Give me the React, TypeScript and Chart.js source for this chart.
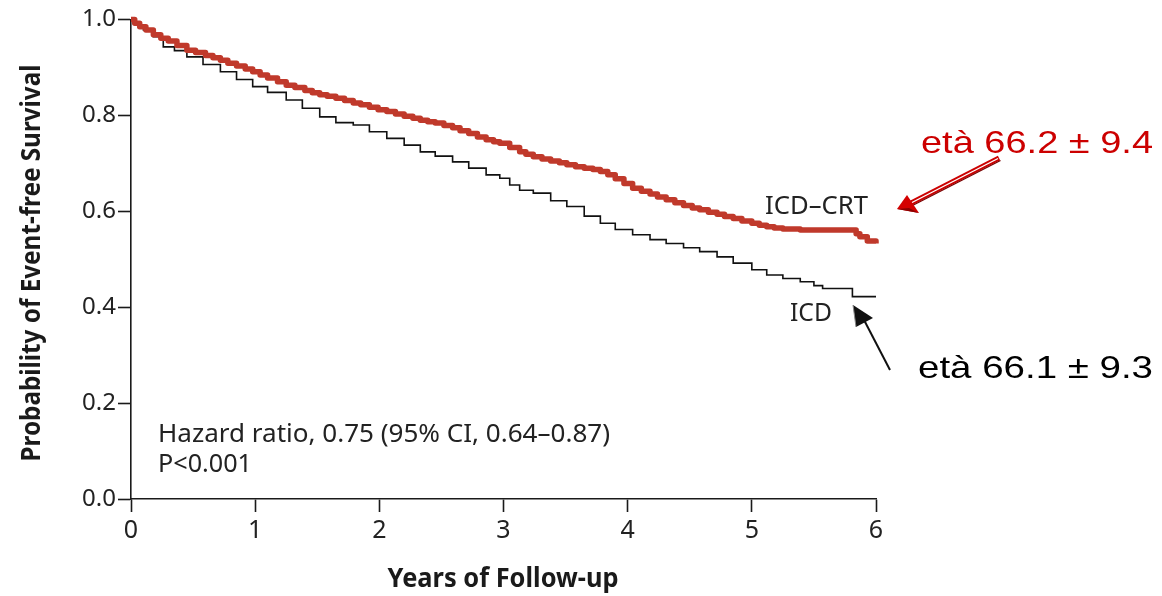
import React, { useEffect, useRef } from 'react';
import { Chart, registerables } from 'chart.js';

Chart.register(...registerables);

// ICD–CRT (red) Kaplan–Meier estimate
const crtYears = [0, 0.03, 0.07, 0.12, 0.18, 0.24, 0.3, 0.37, 0.45, 0.52, 0.6, 0.66, 0.72, 0.78, 0.85, 0.92, 0.98, 1.04, 1.1, 1.18, 1.25, 1.32, 1.4, 1.46, 1.52, 1.58, 1.65, 1.72, 1.79, 1.85, 1.92, 1.99, 2.06, 2.13, 2.2, 2.27, 2.33, 2.39, 2.45, 2.52, 2.59, 2.65, 2.72, 2.79, 2.86, 2.92, 2.97, 3.05, 3.13, 3.18, 3.24, 3.31, 3.38, 3.45, 3.51, 3.58, 3.65, 3.72, 3.78, 3.84, 3.9, 3.97, 4.04, 4.11, 4.18, 4.24, 4.31, 4.38, 4.45, 4.52, 4.58, 4.65, 4.72, 4.78, 4.85, 4.92, 5.0, 5.06, 5.12, 5.18, 5.25, 5.39, 5.84, 5.87, 5.93, 6.0];
const crtSurvival = [1.0, 0.992, 0.985, 0.978, 0.968, 0.961, 0.955, 0.946, 0.936, 0.931, 0.925, 0.92, 0.915, 0.909, 0.903, 0.897, 0.891, 0.884, 0.878, 0.87, 0.863, 0.858, 0.852, 0.847, 0.843, 0.84, 0.836, 0.831, 0.826, 0.822, 0.817, 0.812, 0.808, 0.803, 0.798, 0.794, 0.79, 0.787, 0.784, 0.779, 0.774, 0.768, 0.762, 0.755, 0.749, 0.745, 0.742, 0.733, 0.724, 0.719, 0.714, 0.709, 0.705, 0.701, 0.697, 0.693, 0.69, 0.687, 0.683, 0.676, 0.668, 0.658, 0.648, 0.642, 0.636, 0.63, 0.624, 0.618, 0.612, 0.607, 0.603, 0.598, 0.594, 0.589, 0.585, 0.58, 0.575, 0.571, 0.568, 0.565, 0.563, 0.561, 0.553, 0.547, 0.538, 0.533];

// ICD (black) Kaplan–Meier estimate
const icdYears = [0, 0.04, 0.1, 0.18, 0.26, 0.35, 0.45, 0.58, 0.72, 0.85, 0.98, 1.1, 1.25, 1.38, 1.52, 1.65, 1.79, 1.92, 2.06, 2.2, 2.33, 2.45, 2.59, 2.72, 2.86, 2.97, 3.05, 3.13, 3.24, 3.38, 3.51, 3.65, 3.78, 3.9, 4.04, 4.18, 4.31, 4.45, 4.58, 4.72, 4.85, 5.0, 5.12, 5.25, 5.39, 5.5, 5.57, 5.81, 6.0];
const icdSurvival = [1.0, 0.988, 0.978, 0.964, 0.943, 0.935, 0.922, 0.906, 0.891, 0.875, 0.86, 0.848, 0.832, 0.815, 0.797, 0.785, 0.78, 0.766, 0.752, 0.738, 0.724, 0.715, 0.703, 0.69, 0.676, 0.669, 0.655, 0.644, 0.638, 0.622, 0.61, 0.59, 0.575, 0.562, 0.551, 0.541, 0.533, 0.524, 0.516, 0.505, 0.492, 0.478, 0.467, 0.46, 0.453, 0.445, 0.439, 0.422, 0.422];

const xTickValues = [0, 1, 2, 3, 4, 5, 6];
const yTickValues = [0, 0.2, 0.4, 0.6, 0.8, 1.0];

const seriesLabels = ['ICD–CRT', 'ICD'];
const xTitle = 'Years of Follow-up';
const yTitle = 'Probability of Event-free Survival';
const hazardText = 'Hazard ratio, 0.75 (95% CI, 0.64–0.87)';
const pText = 'P<0.001';
const crtAge = 'età 66.2 ± 9.4';
const icdAge = 'età 66.1 ± 9.3';

const SANS = '"Noto Sans", "Open Sans", sans-serif';
const ARIAL = '"Liberation Sans", Arial, sans-serif';

function fitText(
  ctx: CanvasRenderingContext2D,
  text: string,
  x: number,
  y: number,
  width: number,
  font: string,
  color: string,
  align: CanvasTextAlign = 'left',
  rotate = 0
) {
  ctx.save();
  ctx.font = font;
  ctx.fillStyle = color;
  ctx.textBaseline = 'alphabetic';
  ctx.textAlign = align;
  const m = ctx.measureText(text).width;
  const s = m > 0 ? width / m : 1;
  ctx.translate(x, y);
  if (rotate) ctx.rotate(rotate);
  ctx.scale(s, 1);
  ctx.fillText(text, 0, 0);
  ctx.restore();
}

const annotatePlugin = {
  id: 'annotate',
  afterDraw(chart: any) {
    const ctx: CanvasRenderingContext2D = chart.ctx;
    const textColor = '#222222';

    // Axis titles
    fitText(ctx, yTitle, 40, 263, 397, `bold 27px ${SANS}`, '#1a1a1a', 'center', -Math.PI / 2);
    fitText(ctx, xTitle, 503, 587, 231, `bold 27px ${SANS}`, '#1a1a1a', 'center');

    // Statistics
    fitText(ctx, hazardText, 158, 442, 452, `26px ${SANS}`, textColor);
    fitText(ctx, pText, 158, 472, 94, `26px ${SANS}`, textColor);

    // Series labels
    fitText(ctx, seriesLabels[0], 765, 214, 103, `26px ${SANS}`, textColor);
    fitText(ctx, seriesLabels[1], 790, 321, 42, `26px ${SANS}`, textColor);

    // Age annotations
    fitText(ctx, crtAge, 921, 153, 232, `32px ${ARIAL}`, '#cc0000');
    fitText(ctx, icdAge, 918, 378, 235, `32px ${ARIAL}`, '#000000');

    // Red double-line arrow
    ctx.save();
    ctx.lineCap = 'butt';
    ctx.strokeStyle = '#cc0000';
    ctx.lineWidth = 5;
    ctx.beginPath();
    ctx.moveTo(999, 158);
    ctx.lineTo(911, 203);
    ctx.stroke();
    ctx.strokeStyle = '#7a0000';
    ctx.lineWidth = 1.3;
    ctx.beginPath();
    ctx.moveTo(1000.5, 160.5);
    ctx.lineTo(912.5, 205.5);
    ctx.stroke();
    ctx.strokeStyle = '#ffffff';
    ctx.lineWidth = 1.4;
    ctx.beginPath();
    ctx.moveTo(998, 158.5);
    ctx.lineTo(911, 203);
    ctx.stroke();
    ctx.fillStyle = '#d40000';
    ctx.beginPath();
    ctx.moveTo(897, 209);
    ctx.lineTo(907, 195);
    ctx.lineTo(919, 213);
    ctx.closePath();
    ctx.fill();
    ctx.fillStyle = '#8a0000';
    ctx.beginPath();
    ctx.moveTo(897, 209);
    ctx.lineTo(919, 213);
    ctx.lineTo(909, 208);
    ctx.closePath();
    ctx.fill();
    ctx.restore();

    // Black arrow
    ctx.save();
    ctx.strokeStyle = '#111111';
    ctx.lineWidth = 2;
    ctx.beginPath();
    ctx.moveTo(890, 370);
    ctx.lineTo(863, 318);
    ctx.stroke();
    ctx.fillStyle = '#111111';
    ctx.beginPath();
    ctx.moveTo(853, 305);
    ctx.lineTo(873, 318);
    ctx.lineTo(856, 327);
    ctx.closePath();
    ctx.fill();
    ctx.strokeStyle = '#888888';
    ctx.lineWidth = 1;
    ctx.beginPath();
    ctx.moveTo(853, 305);
    ctx.lineTo(856, 327);
    ctx.stroke();
    ctx.restore();
  },
};

export default function App() {
  const canvasRef = useRef<HTMLCanvasElement | null>(null);

  useEffect(() => {
    const canvas = canvasRef.current;
    if (!canvas) return;
    const crtData = crtYears.map((x, i) => ({ x, y: crtSurvival[i] }));
    const icdData = icdYears.map((x, i) => ({ x, y: icdSurvival[i] }));

    const chart = new Chart(canvas, {
      type: 'line',
      data: {
        datasets: [
          {
            label: seriesLabels[0],
            data: crtData,
            borderColor: '#c0392b',
            borderWidth: 5.5,
            stepped: 'before',
            pointRadius: 0,
            fill: false,
            clip: false as any,
            borderJoinStyle: 'round',
            borderCapStyle: 'butt',
          },
          {
            label: seriesLabels[1],
            data: icdData,
            borderColor: '#111111',
            borderWidth: 1.6,
            stepped: 'before',
            pointRadius: 0,
            fill: false,
            clip: false as any,
            borderJoinStyle: 'miter',
          },
        ],
      },
      options: {
        responsive: false,
        animation: false,
        events: [],
        layout: { padding: { left: 0, top: 19.5, right: 286, bottom: 0 } },
        plugins: {
          legend: { display: false },
          tooltip: { enabled: false },
          title: { display: false },
        },
        scales: {
          x: {
            type: 'linear',
            min: 0,
            max: 6,
            afterBuildTicks: (scale: any) => {
              scale.ticks = xTickValues.map((v) => ({ value: v }));
            },
            afterFit: (scale: any) => {
              scale.height = 97;
            },
            ticks: {
              padding: 4,
              color: '#222222',
              font: { family: SANS, size: 25 },
              maxRotation: 0,
              callback: (v: any) => String(v),
            },
            grid: {
              drawOnChartArea: false,
              drawTicks: true,
              tickLength: 13,
              color: '#1a1a1a',
              tickWidth: 1.6,
            },
            border: { display: true, color: '#1a1a1a', width: 1.6 },
          },
          y: {
            type: 'linear',
            min: 0,
            max: 1,
            afterBuildTicks: (scale: any) => {
              scale.ticks = yTickValues.map((v) => ({ value: v }));
            },
            afterFit: (scale: any) => {
              scale.width = 131;
            },
            ticks: {
              padding: 2,
              color: '#222222',
              font: { family: SANS, size: 24 },
              callback: (v: any) => Number(v).toFixed(1),
            },
            grid: {
              drawOnChartArea: false,
              drawTicks: true,
              tickLength: 13,
              color: '#1a1a1a',
              tickWidth: 1.6,
            },
            border: { display: true, color: '#1a1a1a', width: 1.6 },
          },
        },
      },
      plugins: [annotatePlugin],
    });

    return () => chart.destroy();
  }, []);

  return (
    <div style={{ position: 'absolute', left: 0, top: 0, width: 1162, height: 596, background: '#ffffff' }}>
      <canvas ref={canvasRef} width={1162} height={596} style={{ display: 'block' }} />
    </div>
  );
}
